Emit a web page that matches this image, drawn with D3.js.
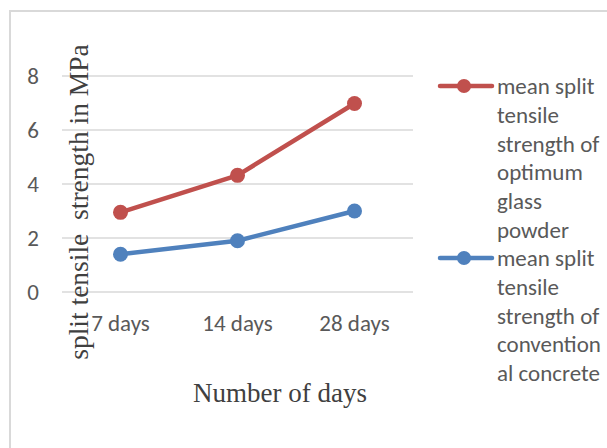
<!DOCTYPE html>
<html><head><meta charset="utf-8">
<script src="https://cdn.jsdelivr.net/npm/d3@7"></script>
<style>body{margin:0;background:#fff}svg{display:block}</style>
</head><body>
<svg id="c" width="607" height="448"></svg>
<script>
const categories = ["7 days", "14 days", "28 days"];
const glassPowder = [2.95, 4.32, 6.98];
const conventional = [1.4, 1.9, 3.0];
const yTicks = [0, 2, 4, 6, 8];
const seriesNames = [
  ["mean split", "tensile", "strength of", "optimum", "glass", "powder"],
  ["mean split", "tensile", "strength of", "convention", "al concrete"]
];
const colors = ["#c0504d", "#4f81bd"];

const svg = d3.select("#c");
const sans = "Carlito, Calibri, 'Open Sans', Lato, sans-serif";
const serif = "'Liberation Serif', 'Times New Roman', serif";

// frame
svg.append("path").attr("d", "M10,448 V11 H607").attr("fill", "none")
  .attr("stroke", "#d9d9d9").attr("stroke-width", 2);

const x = d3.scaleBand().domain(categories).range([62, 413]);
const y = d3.scaleLinear().domain([0, 8]).range([292, 76]);

// grid
svg.append("g").selectAll("line").data(yTicks).join("line")
  .attr("x1", 62).attr("x2", 413)
  .attr("y1", d => y(d)).attr("y2", d => y(d))
  .attr("stroke", "#d9d9d9").attr("stroke-width", 1.3);

// y tick labels
svg.append("g").selectAll("text").data(yTicks).join("text")
  .attr("x", 39).attr("y", d => y(d)).attr("dy", "0.35em")
  .attr("text-anchor", "end").attr("fill", "#595959")
  .style("font-family", sans).style("font-size", "23px").text(d => d);

// x tick labels
svg.append("g").selectAll("text").data(categories).join("text")
  .attr("x", d => x(d) + x.bandwidth() / 2).attr("y", 331)
  .attr("text-anchor", "middle").attr("fill", "#595959")
  .style("font-family", sans).style("font-size", "23px").text(d => d);

// axis titles
svg.append("text").attr("transform", "translate(88,202) rotate(-90)")
  .attr("text-anchor", "middle").attr("fill", "#404040")
  .style("font-family", serif).style("font-size", "27.5px").style("white-space", "pre")
  .attr("xml:space", "preserve")
  .text("split tensile  strength in MPa");
svg.append("text").attr("x", 280).attr("y", 402)
  .attr("text-anchor", "middle").attr("fill", "#404040")
  .style("font-family", serif).style("font-size", "27px")
  .text("Number of days");

// series
const data = [glassPowder, conventional];
const line = d3.line().x((d, i) => x(categories[i]) + x.bandwidth() / 2).y(d => y(d));
data.forEach((s, k) => {
  svg.append("path").datum(s).attr("d", line).attr("fill", "none")
    .attr("stroke", colors[k]).attr("stroke-width", 4.5).attr("stroke-linejoin", "round");
  svg.append("g").selectAll("circle").data(s).join("circle")
    .attr("cx", (d, i) => x(categories[i]) + x.bandwidth() / 2).attr("cy", d => y(d))
    .attr("r", 7.5).attr("fill", colors[k]);
});

// legend
const legY = [86, 258];
seriesNames.forEach((lines, k) => {
  const g = svg.append("g");
  g.append("line").attr("x1", 440).attr("x2", 492).attr("y1", legY[k]).attr("y2", legY[k])
    .attr("stroke", colors[k]).attr("stroke-width", 4.5).attr("stroke-linecap", "round");
  g.append("circle").attr("cx", 464).attr("cy", legY[k]).attr("r", 7).attr("fill", colors[k]);
  g.selectAll("text").data(lines).join("text")
    .attr("x", 497).attr("y", (d, i) => legY[k] + i * 28.8).attr("dy", "0.35em")
    .attr("fill", "#595959").style("font-family", sans).style("font-size", "23px")
    .text(d => d);
});
</script>
</body></html>
